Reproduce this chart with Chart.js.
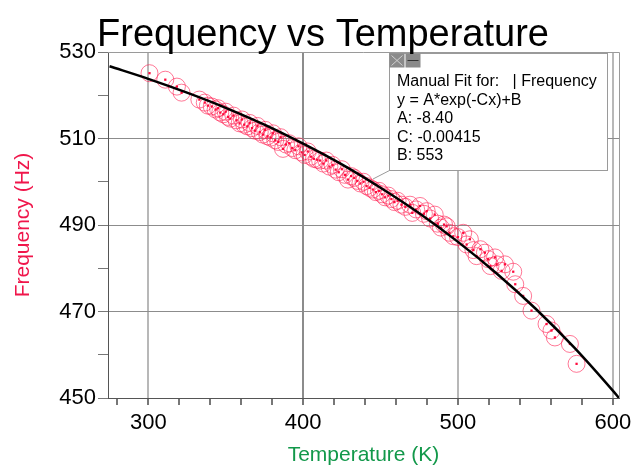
<!DOCTYPE html>
<html>
<head>
<meta charset="utf-8">
<script src="https://cdn.jsdelivr.net/npm/chart.js@4/dist/chart.umd.min.js"></script>
<style>
  html, body { margin: 0; padding: 0; background: #fff; }
  #chart { display: block; }
</style>
</head>
<body>
<canvas id="chart" width="632" height="468"></canvas>
<script>
const temperatura = [
  300.8, 311.0, 318.5, 321.5, 333.0, 336.5, 338.5, 341.0, 343.5, 345.0,
  346.5, 348.5, 350.0, 351.5, 353.0, 355.0, 357.0, 359.0, 360.5, 362.0,
  364.0, 365.5, 367.0, 369.0, 370.5, 372.0, 374.0, 375.5, 377.0, 379.0,
  380.5, 382.0, 384.0, 385.5, 387.0, 389.0, 391.0, 393.0, 395.0, 397.0,
  399.0, 401.0, 403.0, 405.0, 407.0, 409.0, 411.0, 413.0, 415.0, 417.0,
  419.0, 421.0, 423.0, 425.0, 427.0, 429.0, 431.0, 433.0, 435.0, 437.0,
  439.0, 441.0, 443.0, 445.0, 447.0, 449.0, 451.0, 453.0, 455.0, 457.0,
  459.0, 461.0, 463.5, 466.0, 469.0, 470.5, 473.0, 475.5, 478.0, 479.8,
  482.0, 485.0, 487.0, 489.0, 491.0, 492.7, 494.5, 497.0, 500.0, 503.4,
  505.6, 507.7, 510.0, 512.0, 514.5, 517.4, 519.5, 521.0, 523.9, 525.0,
  528.2, 530.3, 535.7, 537.0, 542.1, 547.5, 557.2, 560.4, 562.6, 572.3,
  576.6
];
const frecuencia = [
  525.1, 523.6, 522.0, 520.6, 519.0, 518.3, 517.6, 517.4, 516.7, 517.0,
  516.0, 515.6, 516.2, 515.0, 514.6, 515.3, 514.2, 513.5, 514.4, 513.2,
  512.8, 513.6, 512.4, 511.8, 512.9, 511.5, 510.9, 512.0, 510.5, 510.2,
  511.2, 509.6, 509.2, 510.3, 507.6, 508.6, 508.9, 507.8, 507.3, 508.2,
  506.8, 506.2, 507.0, 505.8, 505.3, 505.1, 504.9, 504.2, 504.9, 503.5,
  503.9, 502.8, 502.2, 502.9, 501.6, 500.5, 501.3, 500.9, 500.2, 499.6,
  500.0, 499.0, 498.6, 498.2, 497.6, 497.9, 497.1, 496.4, 496.8, 496.0,
  495.3, 495.6, 494.7, 494.2, 494.7, 492.8, 493.6, 494.4, 492.6, 493.2,
  491.5, 492.4, 490.3, 489.4, 490.1, 489.7, 488.2, 487.4, 487.2, 488.2,
  485.5, 486.7, 484.2, 482.8, 484.4, 483.6, 482.1, 480.5, 482.5, 480.9,
  479.4, 480.9, 479.2, 476.3, 473.6, 470.2, 467.1, 465.6, 464.0, 462.5,
  457.9
];

// Curva de ajuste manual
const ajusteTemp = [275, 300, 325, 350, 375, 400, 425, 450, 475, 500, 525, 550, 575, 600, 604];
const ajusteFrec = [526.7, 523.8, 520.6, 517.1, 513.2, 508.8, 504.0, 498.6, 492.7, 486.1, 478.8, 470.7, 461.7, 451.7, 450.0];

// Marcas de los ejes
const ticksX = [280, 300, 320, 340, 360, 380, 400, 420, 440, 460, 480, 500, 520, 540, 560, 580, 600];
const ticksY = [450, 460, 470, 480, 490, 500, 510, 520, 530];
const etiquetasX = [300, 400, 500, 600];
const etiquetasY = [450, 470, 490, 510, 530];

const textoAjuste = [
  'Manual Fit for:   | Frequency',
  'y = A*exp(-Cx)+B',
  'A: -8.40',
  'C: -0.00415',
  'B: 553'
];

const FUENTE = "'Liberation Sans', Arial, sans-serif";

const puntos = temperatura.map((t, i) => ({ x: t, y: frecuencia[i] }));
const curva = ajusteTemp.map((t, i) => ({ x: t, y: ajusteFrec[i] }));

// Plugin: título, marco y cuadro del ajuste
const decoracion = {
  id: 'decoracion',
  beforeDatasetsDraw(chart) {
    const { ctx, chartArea: a } = chart;
    ctx.save();
    ctx.strokeStyle = '#9a9a9a';
    ctx.lineWidth = 1;
    ctx.beginPath();
    ctx.moveTo(a.left, a.top + 0.5);
    ctx.lineTo(a.right + 0.5, a.top + 0.5);
    ctx.lineTo(a.right + 0.5, a.bottom);
    ctx.stroke();
    ctx.restore();
  },
  afterDatasetsDraw(chart) {
    const ctx = chart.ctx;
    ctx.save();
    // cuadro
    const bx = 389.5, by = 53.5, bw = 218, bh = 117;
    ctx.strokeStyle = '#9a9a9a';
    ctx.lineWidth = 1;
    ctx.beginPath();
    ctx.moveTo(bx, by + bh);
    ctx.lineTo(373, 179);
    ctx.stroke();
    ctx.fillStyle = '#fff';
    ctx.fillRect(bx, by, bw, bh);
    ctx.strokeRect(bx, by, bw, bh);
    // iconos
    ctx.fillStyle = '#8a8a8a';
    ctx.fillRect(bx, by, 15, 14);
    ctx.fillRect(bx + 16, by, 15, 14);
    ctx.strokeStyle = '#d0d0d0';
    ctx.beginPath();
    ctx.moveTo(bx + 2, by + 2); ctx.lineTo(bx + 13, by + 12);
    ctx.moveTo(bx + 13, by + 2); ctx.lineTo(bx + 2, by + 12);
    ctx.stroke();
    ctx.strokeStyle = '#333';
    ctx.beginPath();
    ctx.moveTo(bx + 18, by + 7); ctx.lineTo(bx + 29, by + 7);
    ctx.stroke();
    // texto
    ctx.fillStyle = '#000';
    ctx.font = '16px ' + FUENTE;
    ctx.textBaseline = 'middle';
    ctx.textAlign = 'left';
    textoAjuste.forEach((linea, i) => {
      ctx.fillText(linea, 397, 82 + i * 18.5);
    });
    ctx.restore();
  },
  afterDraw(chart) {
    const ctx = chart.ctx;
    ctx.save();
    ctx.fillStyle = '#000';
    ctx.font = '38px ' + FUENTE;
    ctx.textAlign = 'center';
    ctx.textBaseline = 'alphabetic';
    ctx.fillText('Frequency vs Temperature', 323, 46);
    ctx.restore();
  }
};

new Chart(document.getElementById('chart'), {
  type: 'scatter',
  data: {
    datasets: [
      {
        label: 'Ajuste',
        data: curva,
        showLine: true,
        borderColor: '#000',
        borderWidth: 2.5,
        pointRadius: 0,
        cubicInterpolationMode: 'monotone',
        order: 0
      },
      {
        label: 'Centro',
        data: puntos,
        pointStyle: 'rect',
        pointRadius: 1.6,
        backgroundColor: '#ff0a3c',
        borderWidth: 0,
        order: 1
      },
      {
        label: 'Frequency',
        data: puntos,
        pointRadius: 8.5,
        backgroundColor: 'rgba(0,0,0,0)',
        borderColor: 'rgba(255, 30, 80, 0.6)',
        borderWidth: 1,
        order: 2
      }
    ]
  },
  options: {
    responsive: false,
    animation: false,
    devicePixelRatio: 1,
    layout: { padding: { top: 52, right: 13, left: 0, bottom: 0 } },
    plugins: {
      legend: { display: false },
      tooltip: { enabled: false }
    },
    scales: {
      x: {
        type: 'linear',
        min: 274,
        max: 604,
        afterBuildTicks: s => { s.ticks = ticksX.map(v => ({ value: v })); },
        afterFit: s => { s.height = 70; s.paddingRight = 4; s.paddingLeft = 4; },
        ticks: {
          autoSkip: false,
          maxRotation: 0,
          color: '#000',
          padding: 5,
          font: { family: FUENTE, size: 22 },
          callback: v => etiquetasX.includes(v) ? String(v) : ''
        },
        grid: {
          color: c => c.tick && etiquetasX.includes(c.tick.value) ? (c.tick.value === 400 ? '#8c8c8c' : '#b8b8b8') : 'rgba(0,0,0,0)',
          lineWidth: 2,
          tickColor: '#777',
          tickLength: 7
        },
        border: { color: '#555', width: 1 },
        title: {
          display: true,
          text: 'Temperature (K)',
          color: '#12984a',
          font: { family: FUENTE, size: 21 },
          padding: { top: 0, bottom: 0 }
        }
      },
      y: {
        min: 450,
        max: 530,
        afterBuildTicks: s => { s.ticks = ticksY.map(v => ({ value: v })); },
        afterFit: s => { s.width = 108; },
        ticks: {
          autoSkip: false,
          color: '#000',
          padding: 2,
          font: { family: FUENTE, size: 22 },
          callback: v => etiquetasY.includes(v) ? String(v) : ''
        },
        grid: {
          color: c => c.tick && [470, 490, 510].includes(c.tick.value) ? '#8c8c8c' : 'rgba(0,0,0,0)',
          lineWidth: 1,
          tickColor: '#777',
          tickLength: 10
        },
        border: { color: '#555', width: 1 },
        title: {
          display: true,
          text: 'Frequency (Hz)',
          color: '#f0164b',
          font: { family: FUENTE, size: 21 },
          padding: { top: 11, bottom: 0 }
        }
      }
    }
  },
  plugins: [decoracion]
});
</script>
</body>
</html>
